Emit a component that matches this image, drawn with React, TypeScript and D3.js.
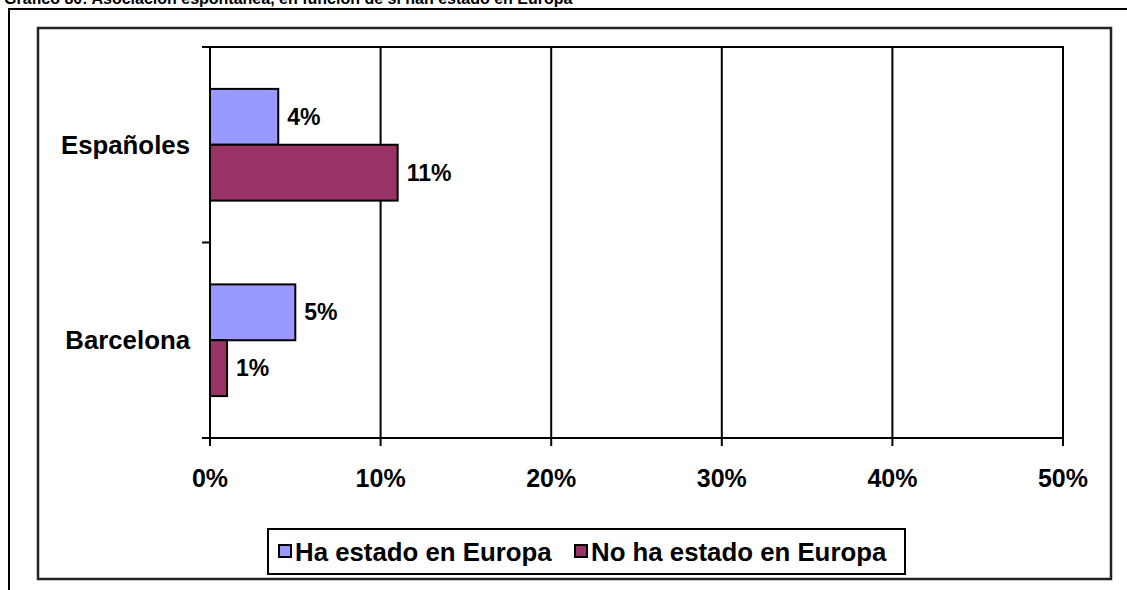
import React from "react";
import * as d3 from "d3";

const categories = ["Españoles", "Barcelona"];
const seriesNames = ["Ha estado en Europa", "No ha estado en Europa"];
const haEstado = [4, 5];
const noHaEstado = [11, 1];
const xTicks = [0, 10, 20, 30, 40, 50];
const colors = ["#9999FF", "#993366"];
const title = "Gráfico 80: Asociación espontánea, en función de si han estado en Europa";

const W = 1127;
const H = 590;
const FONT = "Arial, 'Liberation Sans', sans-serif";

export default function App() {
  const plot = { left: 210, top: 47, right: 1063, bottom: 438 };
  const x = d3.scaleLinear().domain([0, 50]).range([plot.left, plot.right]);
  const y = d3.scaleBand<string>().domain(categories).range([plot.top, plot.bottom]).padding(0);
  const inner = d3
    .scaleBand<string>()
    .domain(seriesNames)
    .range([0, y.bandwidth()])
    .paddingInner(0)
    .paddingOuter(0.75);
  const series = [haEstado, noHaEstado];
  const catTicks = [plot.top, ...categories.map((c) => (y(c) as number) + y.bandwidth())];

  return (
    <div style={{ position: "absolute", left: 0, top: 0 }}>
      <svg width={W} height={H} style={{ display: "block", background: "#fff" }} fontFamily={FONT}>
        <text x={4} y={4} fontSize={16} fontWeight="bold" fill="#000">
          {title}
        </text>
        <path d={`M9,${H} V9 H${W}`} fill="none" stroke="#000" strokeWidth={2} />
        <rect x={38} y={28} width={1073} height={551} fill="#fff" stroke="#222" strokeWidth={2.5} />

        {/* plot area */}
        <rect
          x={plot.left}
          y={plot.top}
          width={plot.right - plot.left}
          height={plot.bottom - plot.top}
          fill="#fff"
          stroke="#000"
          strokeWidth={2}
        />
        {xTicks.slice(1, -1).map((t) => (
          <line key={"g" + t} x1={x(t)} x2={x(t)} y1={plot.top} y2={plot.bottom} stroke="#000" strokeWidth={2} />
        ))}

        {/* bars */}
        {categories.map((c, ci) =>
          seriesNames.map((s, si) => {
            const v = series[si][ci];
            const by = (y(c) as number) + (inner(s) as number);
            return (
              <g key={c + s}>
                <rect
                  x={x(0)}
                  y={by}
                  width={x(v) - x(0)}
                  height={inner.bandwidth()}
                  fill={colors[si]}
                  stroke="#000"
                  strokeWidth={2}
                />
                <text
                  x={x(v) + 9}
                  y={by + inner.bandwidth() / 2}
                  dy="0.35em"
                  fontSize={23}
                  fontWeight="bold"
                  fill="#000"
                >
                  {v}%
                </text>
              </g>
            );
          })
        )}

        {/* axes */}
        <line x1={plot.left} x2={plot.left} y1={plot.top} y2={plot.bottom} stroke="#000" strokeWidth={2} />
        <line x1={plot.left - 8} x2={plot.right} y1={plot.bottom} y2={plot.bottom} stroke="#000" strokeWidth={2} />
        {catTicks.map((ty, i) => (
          <line key={"ct" + i} x1={plot.left - 8} x2={plot.left} y1={ty} y2={ty} stroke="#000" strokeWidth={2} />
        ))}
        {xTicks.map((t) => (
          <g key={"xt" + t}>
            <line x1={x(t)} x2={x(t)} y1={plot.bottom} y2={plot.bottom + 8} stroke="#000" strokeWidth={2} />
            <text x={x(t)} y={478} dy="0.35em" textAnchor="middle" fontSize={25} fontWeight="bold" fill="#000">
              {t}%
            </text>
          </g>
        ))}
        {categories.map((c) => (
          <text
            key={"cl" + c}
            x={190}
            y={(y(c) as number) + y.bandwidth() / 2}
            dy="0.35em"
            textAnchor="end"
            fontSize={25.8}
            fontWeight="bold"
            fill="#000"
          >
            {c}
          </text>
        ))}

        {/* legend */}
        <rect x={268} y={529} width={637} height={45} fill="#fff" stroke="#000" strokeWidth={2} />
        {seriesNames.map((s, i) => {
          const lx = i === 0 ? 279 : 575;
          return (
            <g key={"lg" + s}>
              <rect x={lx} y={545} width={12} height={12} fill={colors[i]} stroke="#000" strokeWidth={2} />
              <text x={lx + 16} y={551.5} dy="0.35em" fontSize={25.8} fontWeight="bold" fill="#000">
                {s}
              </text>
            </g>
          );
        })}
      </svg>
    </div>
  );
}
